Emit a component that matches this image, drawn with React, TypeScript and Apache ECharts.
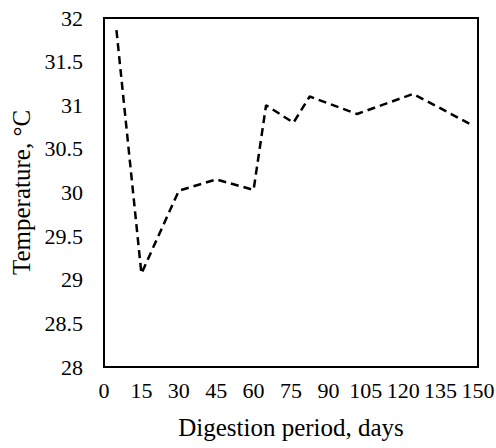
import React, { useEffect, useRef } from "react";
import * as echarts from "echarts";

const days = [5, 15, 30, 45, 60, 65, 76, 82.5, 101.5, 124, 146.5];
const temperature = [31.86, 29.07, 30.02, 30.15, 30.03, 31.0, 30.8, 31.1, 30.9, 31.13, 30.79];
const xTitle = "Digestion period, days";
const yTitle = "Temperature, °C";

export default function App() {
  const ref = useRef<HTMLDivElement>(null);
  useEffect(() => {
    const chart = echarts.init(ref.current!, null, { renderer: "svg" });
    const font = "Liberation Serif";
    const labelStyle = { fontFamily: font, fontSize: 22, color: "#000" };
    chart.setOption({
      animation: false,
      backgroundColor: "#ffffff",
      textStyle: { fontFamily: font, color: "#000" },
      grid: {
        left: 104,
        right: 18,
        top: 18,
        bottom: 81,
        show: true,
        borderColor: "#000",
        borderWidth: 2,
        backgroundColor: "transparent",
        outerBoundsMode: "none",
      },
      xAxis: {
        type: "value",
        min: 0,
        max: 150,
        interval: 15,
        name: xTitle,
        nameLocation: "middle",
        nameGap: 48,
        nameTextStyle: { fontFamily: font, fontSize: 25, color: "#000", verticalAlign: "top" },
        axisLine: { show: true, lineStyle: { color: "#000", width: 2 } },
        axisTick: { show: false },
        splitLine: { show: false },
        axisLabel: { margin: 12, ...labelStyle },
      },
      yAxis: {
        type: "value",
        min: 28,
        max: 32,
        interval: 0.5,
        name: yTitle,
        nameLocation: "middle",
        nameGap: 57,
        nameTextStyle: { fontFamily: font, fontSize: 25, color: "#000" },
        axisLine: { show: true, lineStyle: { color: "#000", width: 2 } },
        axisTick: { show: false },
        splitLine: { show: false },
        axisLabel: { margin: 21, ...labelStyle },
      },
      series: [
        {
          type: "line",
          data: days.map((d, i) => [d, temperature[i]]),
          symbol: "none",
          lineStyle: { color: "#000", width: 2.5, type: [8, 5] },
        },
      ],
    });
    return () => chart.dispose();
  }, []);
  return <div ref={ref} style={{ width: 496, height: 448, position: "absolute", left: 0, top: 0 }} />;
}
